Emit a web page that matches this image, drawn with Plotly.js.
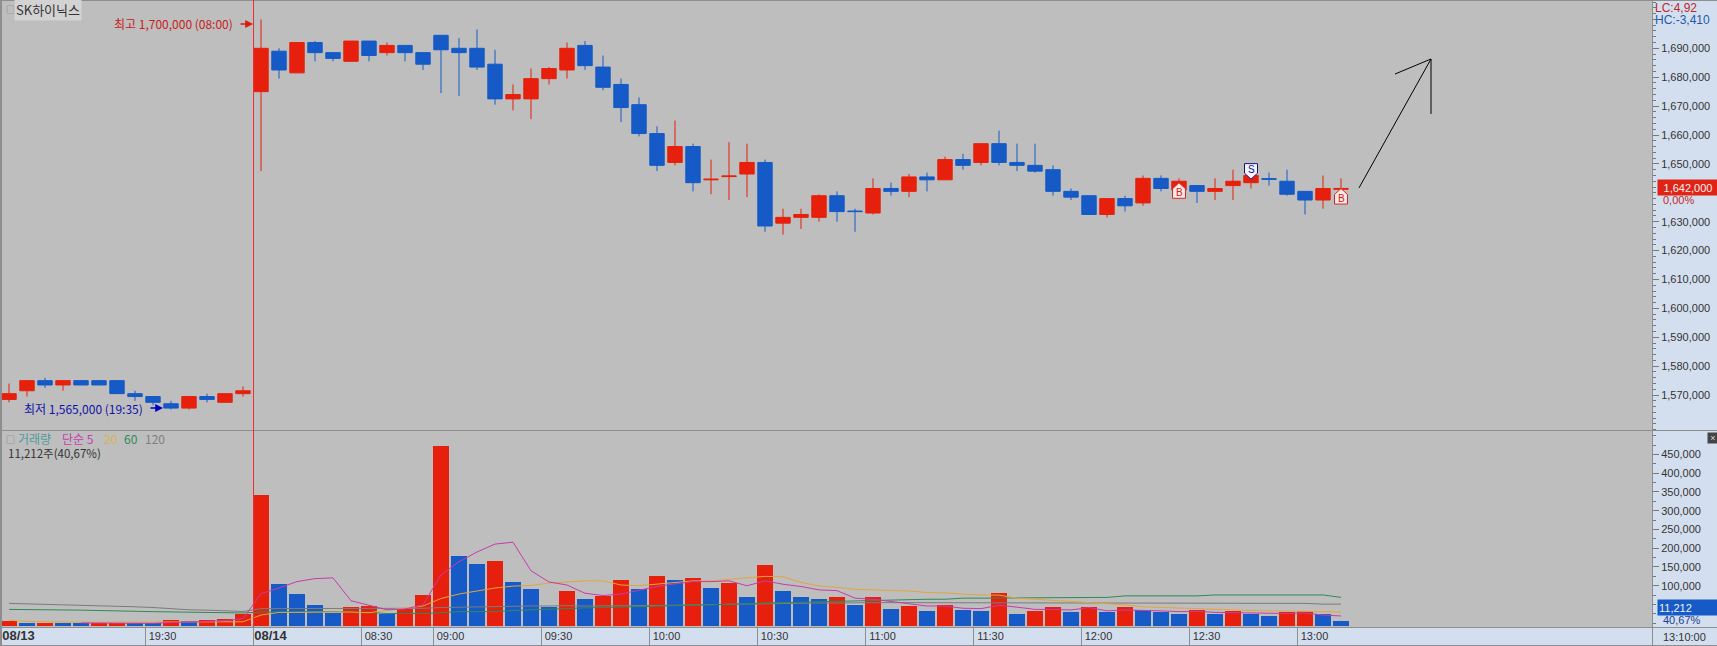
<!DOCTYPE html>
<html><head><meta charset="utf-8">
<script src="https://cdn.plot.ly/plotly-3.0.1.min.js"></script>
<style>html,body{margin:0;padding:0;background:#D3DFEF;overflow:hidden}#c{width:1717px;height:646px}</style>
</head><body><div id="c"></div>
<script>
// Prices and volumes in thousands (won / shares)
const openK  = [1568.5,1571.5,1575,1573.5,1575,1575,1575,1570.5,1569.5,1567,1565.5,1569.5,1567.5,1570.5,
 1675,1689,1681.5,1692,1688.5,1685.5,1692.5,1688.5,1691,1688.5,1694.5,1690,1690,1684.5,1672.5,1672.5,1679.5,1682.5,1691,1683.5,1677.5,1670.5,1660.5,1650.5,1656,1644.5,1645.6,1646.5,1650.5,1629.5,1631.5,1631.5,1639,1633.7,1633,1641.5,1640.5,1645.5,1644.5,1651.5,1650.5,1657,1650.5,1649.5,1648,1640.5,1639,1632.5,1638,1636.5,1645,1641,1642.5,1640.5,1642.5,1643.5,1644.9,1644,1640.5,1637.5,1641.2];
const highK  = [1574,1575,1576,1575,1575,1575,1575,1571.5,1569.5,1568,1569.5,1570.5,1570.5,1573,
 1700,1690,1692,1692.5,1688.5,1692.5,1692.5,1692,1691,1688.5,1694.5,1693.5,1696.5,1689.5,1677.5,1683,1683.5,1692,1692.5,1687.5,1679.5,1673,1663,1665,1657,1651.5,1657.5,1657,1651.5,1634.5,1634.5,1639.5,1640.5,1634.5,1645,1643.5,1646.5,1647,1652.5,1653.5,1657,1661.5,1657,1657,1649.5,1641.5,1639,1638,1639,1646,1646,1645,1642.5,1645,1648,1647,1647,1648,1640.5,1646,1645];
const lowK   = [1567.5,1569.5,1572.5,1571.5,1573.5,1573.5,1570.5,1568,1566.5,1565,1565,1567.5,1567.5,1569.5,
 1647.5,1679.5,1681.5,1685.5,1685.5,1685.5,1685.5,1687.5,1685.5,1682.5,1674.5,1673.5,1682.5,1670.5,1668.5,1665.5,1677.5,1679.5,1682.5,1675.5,1664.5,1659.5,1647.5,1649.5,1640.5,1639.5,1637.5,1638.5,1626.5,1625.5,1627.5,1630,1630,1626.5,1632.5,1639,1638.5,1640.5,1644.5,1648,1649.5,1649.5,1647.5,1647,1639,1637.5,1632.5,1631.5,1633.5,1635.5,1640.5,1640,1636.5,1637.5,1637.5,1641.5,1642.5,1639,1632.5,1634.5,1640];
const closeK = [1570.5,1575,1573.5,1575,1573.5,1573.5,1570.5,1569.5,1567.5,1565.5,1569.5,1568.5,1570.5,1571.5,
 1690,1682.5,1692,1688.5,1686.5,1692.5,1687.5,1691,1688.5,1684.5,1689.5,1688.5,1683.5,1672.5,1674,1679.5,1683,1690,1684,1676.5,1669.5,1660.5,1649.5,1656,1643.5,1644.7,1645.8,1650.5,1628.5,1631.5,1632.5,1639,1633.5,1633.5,1641.5,1640.5,1645.5,1644.5,1651.5,1649.5,1657,1650.5,1649.5,1647.5,1640.5,1638.5,1632.5,1638,1635.5,1645,1641.5,1644,1640.5,1641.5,1644,1646,1644.7,1639.5,1637.5,1641.5,1641.5];

const volumeK = [6,0,0,1,1,0,0,0,0,9,6,9,11.5,26,
 342,105,79,49,28,43.5,47,25,38,76,473,179,158,166,110,91.5,44,86,65,72,115,91.5,126,115,121,94,108,70,155,86,70,65,70,49,70,38,46,33,49,35.5,33,81,25,33,43.5,30,43.5,30,43.5,35.5,30,26,35.5,26,33,26,19.5,30,33,25,6];
const volumeRise = [1,0,1,0,0,1,1,0,0,1,0,1,1,1,
 1,0,0,0,0,1,1,0,1,1,1,0,0,1,0,0,0,1,0,1,1,0,1,0,1,0,1,0,1,0,0,0,1,0,1,0,1,0,1,0,0,1,0,1,1,0,1,0,1,0,0,0,1,0,1,0,0,1,1,0,0];
const ma5K = [null,null,null,null,1,0,0,0,0,2,3,5,7,12,
 79,94,111,119,121,60,49,36,38,49,129,164,190,211,216,140,110,102,80,74,78,89,98,105,111,111,113,100,113,104,98,89,87,67,64,58,53,46,46,40,39,48,43,37,37,35.5,42,33,35.5,35,33,31,32,29,28,27,27,26,27.5,22,19.5];
const ma20K = [8,5,4,3,3,3,3,3,3,4,4,4,4,4,
 22,29,29,30,30,30,28,35,40,46,66,78,86,94,99,101,107,111,113,113,102,100,104,108,113,113,117,120,125,124,109,99.5,96,90.5,89,87,86,82,81,78,75.5,75,67,64,61,58.6,55,53,49,44,42,40,39,37,35.5,34,33,33,32,31,30];
const ma60K = [37,37,35.5,35.5,35,34,32,32,31,30,29,27.5,27.5,27.5,
 30,31,31,31,31,30,29,26,26,26,28,31,31,31,34,36,39,40,41,42,43,44,46,47,48,49,51,52,54,55,56,57,59,61,62,63,63,64,64,67,67,67,67,68,69,69,69,69,73,73,73,73,73,75.5,75.5,75.5,75.5,75.5,75.5,75.5,69];
const ma120K = [53,52,51,50,48,47,45,44,42,38,36,35,33,31.5,
 39,39,39,39,39,39,38,38,38,40,42,43,44,44,45,46,46,47,46,46,46,46,47,48,49,50,51,52,53,53,54,54,54,55,55,55,55,55,55,55,55,55,54,54,53,53,53,53,53,53,53,53,53,53,53,53,53,53,53,51,51];

const priceTicksK = [1570,1580,1590,1600,1610,1620,1630,1650,1660,1670,1680,1690];
const volumeTicksK = [100,150,200,250,300,350,400,450];
const timeTickSlots = [-14,-6,0,6,10,16,22,28,34,40,46,52,58];
const dateStyle = t => '<span style="font-size:13px"><b>'+t+'</b></span>';
const timeTickText = [dateStyle('08/13'),'19:30',dateStyle('08/14'),'08:30','09:00','09:30','10:00','10:30','11:00','11:30','12:00','12:30','13:00'];
const signals = [{slot:51,priceK:1640.7,kind:'B'},{slot:55,priceK:1647.5,kind:'S'},{slot:60,priceK:1638.7,kind:'B'}];

const RED='#E6200C', BLUE='#155AC6', K=1000;
const toWon = a => a.map(v => v===null ? null : v*K);
const slots = openK.map((_,i)=>i-14);
const PW=1652, PH=626;
const px = x => x/PW, py = y => (627-y)/PH;
const volFloor = -7200;
const slotEdge = -0.4167;

const traces = [
 {type:'candlestick',x:slots,open:toWon(openK),high:toWon(highK),low:toWon(lowK),close:toWon(closeK),xaxis:'x',yaxis:'y',
  whiskerwidth:0,increasing:{line:{color:RED,width:1},fillcolor:RED},decreasing:{line:{color:BLUE,width:1},fillcolor:BLUE},hoverinfo:'skip',showlegend:false},
 {type:'bar',x:slots,y:volumeK.map(v=>v*K-volFloor),base:volFloor,width:0.84,xaxis:'x',yaxis:'y2',
  marker:{color:volumeRise.map(r=>r?RED:BLUE),line:{width:0}},hoverinfo:'skip',showlegend:false},
 {type:'scatter',mode:'lines',x:slots,y:toWon(ma120K),xaxis:'x',yaxis:'y2',line:{color:'#7C7C7C',width:1},hoverinfo:'skip',showlegend:false},
 {type:'scatter',mode:'lines',x:slots,y:toWon(ma60K),xaxis:'x',yaxis:'y2',line:{color:'#2E8B57',width:1},hoverinfo:'skip',showlegend:false},
 {type:'scatter',mode:'lines',x:slots,y:toWon(ma20K),xaxis:'x',yaxis:'y2',line:{color:'#E2A63C',width:1},hoverinfo:'skip',showlegend:false},
 {type:'scatter',mode:'lines',x:slots,y:toWon(ma5K),xaxis:'x',yaxis:'y2',line:{color:'#C93AAE',width:1},hoverinfo:'skip',showlegend:false}
];

const FONT='"Noto Sans CJK KR","Noto Sans",sans-serif', NUM='"Liberation Sans",Arial,sans-serif';
function label(text,x,y,color,size,opts){
 return Object.assign({text,xref:'paper',yref:'paper',x:px(x),y:py(y),xanchor:'left',yanchor:'middle',showarrow:false,
   font:{family:FONT,size:size||12,color:color||'#333'}},opts||{});
}
function arrow(x0,x1,y,color){
 return {text:'',xref:'paper',yref:'paper',x:px(x1),y:py(y),axref:'pixel',ayref:'pixel',ax:x0-x1,ay:0,showarrow:true,arrowhead:2,arrowsize:1.2,arrowwidth:1.3,arrowcolor:color};
}
const annotations = [
 label('□',4,9,'#777',9),
 label('SK하이닉스',14,9.5,'#333',13,{bgcolor:'#D3D3D3'}),
 label('최고 1,700,000 (08:00)',112,24,'#C8201C',12),
 arrow(239,253,24,'#D81C10'),
 label('최저 1,565,000 (19:35)',22,408,'#1010A8',12),
 arrow(149,163,408,'#0000C0'),
 label('□',4,439,'#777',9),
 label('거래량',16,438.5,'#4E9C9C',12),
 label('단순 5',60,438.5,'#C83CB0',12),
 label('20',102,438.5,'#DDB24A',12),
 label('60',122,438.5,'#2E8B57',12),
 label('120',143,438.5,'#808080',12),
 label('11,212주(40,67%)',6,453,'#333',11.5),
 label('LC:4,92',1653,8,'#C02828',12,{font:{family:NUM,size:12,color:'#C02828'}}),
 label('HC:-3,410',1653,20,'#1E5AA8',12,{font:{family:NUM,size:12,color:'#1E5AA8'}}),
 label('1,642,000',1657,187.5,'#fff',12,{width:58,height:13,align:'center',bgcolor:'#DF2415',font:{family:NUM,size:11,color:'#F4F0F0'}}),
 label('0,00%',1661,199.5,'#C02828',12,{font:{family:NUM,size:11,color:'#C02828'}}),
 label('×',1707,437.5,'#fff',9,{width:8,height:8,align:'center',bgcolor:'#444',font:{family:NUM,size:9,color:'#ddd'}}),
 label('11,212',1657,607.5,'#fff',12,{width:58,height:13,align:'left',bgcolor:BLUE,font:{family:NUM,size:11,color:'#F0F0F0'}}),
 label('40,67%',1661,619.5,'#1A3E90',12,{font:{family:NUM,size:11,color:'#1A3E90'}}),
 label('13:10:00',1661,636.5,'#333',12,{font:{family:NUM,size:11,color:'#333'}})
];
signals.forEach(s=>annotations.push({text:s.kind,xref:'x',yref:'y',x:s.slot,y:s.priceK*K,xanchor:'center',yanchor:'middle',yshift:s.kind==='B'?-2:2,showarrow:false,
  font:{family:NUM,size:10,color:s.kind==='B'?'#D02020':'#10108C'}}));

const shapes = [
 {type:'rect',xref:'paper',yref:'paper',x0:px(0),x1:px(2),y0:py(646),y1:py(0),fillcolor:'#8E8E8E',line:{width:0}},
 {type:'rect',xref:'paper',yref:'paper',x0:px(0),x1:px(1717),y0:py(1),y1:py(0),fillcolor:'#8E8E8E',line:{width:0}},
 {type:'line',xref:'paper',yref:'paper',x0:px(0),x1:px(1717),y0:py(430.5),y1:py(430.5),line:{color:'#8E8E8E',width:1}},
 {type:'line',xref:'paper',yref:'paper',x0:px(0),x1:px(1717),y0:py(627.5),y1:py(627.5),line:{color:'#8E8E8E',width:1}},
 {type:'line',xref:'paper',yref:'paper',x0:px(0),x1:px(1717),y0:py(645.5),y1:py(645.5),line:{color:'#8E8E8E',width:1}},
 {type:'line',xref:'paper',yref:'paper',x0:px(1652.5),x1:px(1652.5),y0:py(646),y1:py(627),line:{color:'#8E8E8E',width:1}},
 {type:'line',xref:'x',yref:'paper',x0:slotEdge,x1:slotEdge,y0:0,y1:py(0),line:{color:'#F03030',width:1}},
 {type:'line',xref:'x',yref:'y',x0:61,x1:65,y0:1641.7*K,y1:1686.3*K,line:{color:'#000',width:1}},
 {type:'line',xref:'x',yref:'y',x0:63,x1:65,y0:1681.1*K,y1:1686.3*K,line:{color:'#000',width:1}},
 {type:'line',xref:'x',yref:'y',x0:65,x1:65,y0:1667.3*K,y1:1686.3*K,line:{color:'#000',width:1}}
];
signals.forEach(s=>{
 const b=s.kind==='B';
 shapes.push({type:'path',xref:'x',yref:'y',xsizemode:'pixel',ysizemode:'pixel',xanchor:s.slot,yanchor:s.priceK*K,
   path:b?'M 0 8 L 6.5 2 L 6.5 -7.5 L -6.5 -7.5 L -6.5 2 Z':'M 0 -8 L 6.5 -2 L 6.5 7.5 L -6.5 7.5 L -6.5 -2 Z',
   fillcolor:b?'#FBE9E6':'#F4F4FF',line:{color:b?'#D02828':'#10108C',width:1}});
});

const layout = {
 width:1717,height:646,margin:{l:0,r:65,t:1,b:19,pad:0},
 paper_bgcolor:'#D3DFEF',plot_bgcolor:'#BEBEBE',showlegend:false,boxgap:0.2,boxgroupgap:0,bargap:0,
 font:{family:NUM,size:11,color:'#333'},
 xaxis:{type:'linear',range:[-14.5,77.278],rangeslider:{visible:false},anchor:'y2',showgrid:false,zeroline:false,
   tickmode:'array',tickvals:timeTickSlots.map(s=>s+slotEdge),ticktext:timeTickText,ticks:'outside',ticklen:18,tickcolor:'#8E8E8E',tickwidth:1,
   ticklabelshift:17,ticklabelstandoff:-19,ticklabeloverflow:'allow',tickangle:0,tickfont:{family:NUM,size:11,color:'#333'},
   showline:false,fixedrange:true},
 yaxis:{domain:[py(430),1],range:[1557920,1706370],side:'right',anchor:'x',showgrid:false,zeroline:false,showline:true,linecolor:'#8E8E8E',linewidth:1,
   tickmode:'array',tickvals:priceTicksK.map(v=>v*K),tickformat:',d',ticks:'outside',ticklen:6,tickcolor:'#777',tickwidth:1,
   tickfont:{family:NUM,size:11,color:'#333'},fixedrange:true,
   minor:{dtick:2000,ticks:'outside',ticklen:3,tickcolor:'#777',tickwidth:1,showgrid:false}},
 yaxis2:{domain:[0,py(431)],range:[-9900,512300],side:'right',anchor:'x',showgrid:false,zeroline:false,showline:true,linecolor:'#8E8E8E',linewidth:1,
   tickmode:'array',tickvals:volumeTicksK.map(v=>v*K),tickformat:',d',ticks:'outside',ticklen:6,tickcolor:'#777',tickwidth:1,
   tickfont:{family:NUM,size:11,color:'#333'},fixedrange:true,
   minor:{dtick:25000,ticks:'outside',ticklen:3,tickcolor:'#777',tickwidth:1,showgrid:false}},
 annotations,shapes
};
Plotly.newPlot('c',traces,layout,{displayModeBar:false,staticPlot:true});
</script></body></html>
